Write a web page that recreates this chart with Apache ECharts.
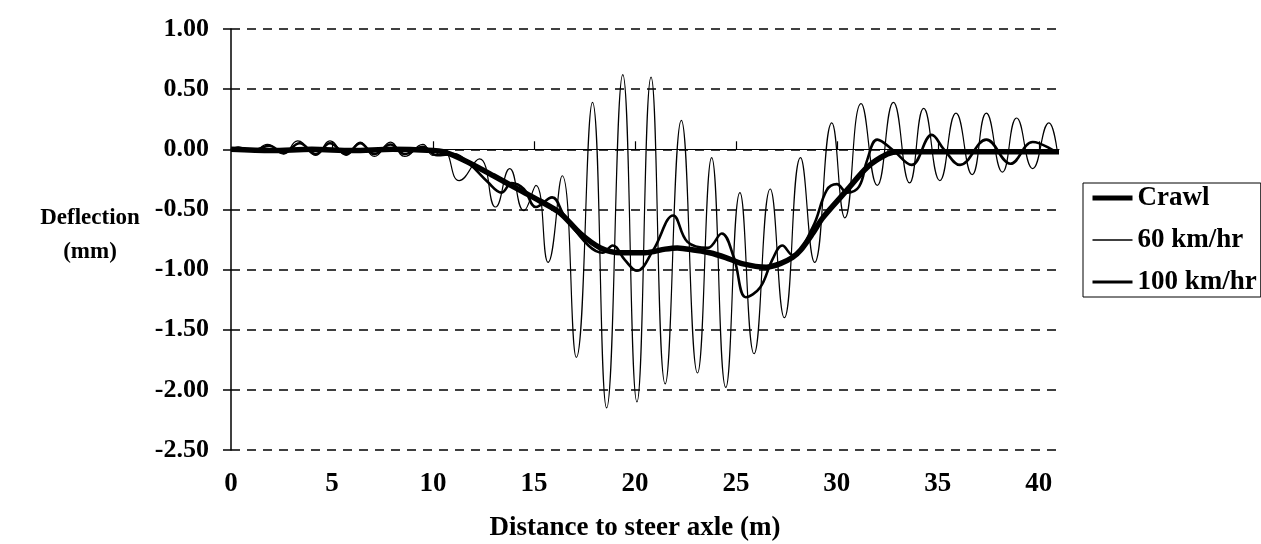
<!DOCTYPE html>
<html>
<head>
<meta charset="utf-8">
<script src="https://cdn.jsdelivr.net/npm/echarts@6/dist/echarts.min.js"></script>
<style>
html, body { margin: 0; padding: 0; background: #fff; }
#deflection-chart { width: 1261px; height: 544px; }
</style>
</head>
<body>
<div id="deflection-chart"></div>
<script>
// values: distance (m) vs deflection (mm)
const crawlX = [0, 2, 4, 6, 8, 10, 10.5, 11, 12, 13, 14.3, 15.3, 16.3, 17.3, 18.3, 19.3, 20.5, 21.5, 22.1, 23, 23.7, 24.5, 25.3, 26.5, 27.2, 27.8, 28.2, 28.8, 29.3, 30.5, 31.5, 32.5, 33.1, 35, 38, 41]
const crawlY = [0, -0.01, 0, -0.01, 0, -0.01, -0.02, -0.05, -0.13, -0.22, -0.34, -0.43, -0.53, -0.70, -0.82, -0.86, -0.86, -0.83, -0.82, -0.84, -0.86, -0.90, -0.95, -0.98, -0.95, -0.90, -0.84, -0.70, -0.57, -0.34, -0.15, -0.04, -0.02, -0.02, -0.02, -0.02]

const speed60X = [0, 0.35, 1.1, 1.8, 2.6, 3.3, 4.2, 4.9, 5.7, 6.4, 7.1, 7.9, 8.6, 9.5, 10.0, 10.5, 11.3, 12.3, 13.1, 13.8, 14.5, 15.1, 15.7, 16.4, 17.1, 17.9, 18.6, 19.4, 20.1, 20.8, 21.5, 22.3, 23.1, 23.8, 24.5, 25.2, 25.9, 26.7, 27.4, 28.2, 28.9, 29.75, 30.4, 31.2, 32.0, 32.8, 33.6, 34.3, 35.1, 35.9, 36.7, 37.4, 38.2, 38.9, 39.7, 40.5, 40.9]
const speed60Y = [0, 0.02, -0.02, 0.04, -0.04, 0.07, -0.05, 0.07, -0.05, 0.06, -0.06, 0.06, -0.06, 0.04, -0.05, -0.01, -0.26, -0.08, -0.48, -0.16, -0.51, -0.30, -0.94, -0.22, -1.73, 0.39, -2.15, 0.62, -2.10, 0.60, -1.95, 0.24, -1.86, -0.07, -1.98, -0.36, -1.70, -0.33, -1.40, -0.07, -0.94, 0.22, -0.57, 0.38, -0.30, 0.39, -0.28, 0.34, -0.26, 0.30, -0.21, 0.30, -0.19, 0.26, -0.16, 0.22, 0.0]

const speed100X = [0, 0.4, 1.1, 1.9, 2.6, 3.4, 4.2, 4.9, 5.7, 6.4, 7.1, 7.9, 8.6, 9.5, 10.2, 11.0, 11.8, 12.7, 13.4, 13.9, 14.5, 15.1, 15.9, 16.5, 17.7, 18.4, 18.9, 19.5, 20.1, 20.9, 21.9, 22.6, 23.6, 24.3, 24.9, 25.5, 26.2, 26.8, 27.3, 27.8, 28.8, 29.5, 30.0, 30.5, 31.1, 31.5, 32.0, 32.8, 33.7, 34.7, 35.3, 36.1, 37.4, 38.6, 39.7, 40.9]
const speed100Y = [0, 0.01, -0.01, 0.03, -0.03, 0.05, -0.04, 0.05, -0.04, 0.05, -0.04, 0.04, -0.04, 0.02, -0.05, -0.04, -0.12, -0.27, -0.36, -0.28, -0.33, -0.48, -0.40, -0.55, -0.80, -0.86, -0.80, -0.92, -1.01, -0.84, -0.55, -0.77, -0.82, -0.70, -0.90, -1.23, -1.15, -0.92, -0.80, -0.88, -0.65, -0.34, -0.29, -0.36, -0.31, -0.09, 0.08, -0.01, -0.13, 0.12, 0.0, -0.13, 0.08, -0.12, 0.06, -0.03]

const xTicks = [0, 5, 10, 15, 20, 25, 30, 35, 40]
const seriesNames = ['Crawl', '60 km/hr', '100 km/hr']

const serif = '"Liberation Serif", "Times New Roman", serif'

function pairs(xs, ys) {
  return xs.map((x, i) => [x, ys[i]])
}

const chart = echarts.init(document.getElementById('deflection-chart'))

// legend keeps only the line sample, the marker circle is hidden
const noMarker = { color: 'rgba(0,0,0,0)', borderWidth: 0, opacity: 0 }

chart.setOption({
  animation: false,
  backgroundColor: '#fff',
  grid: {
    left: 231,
    right: 202,
    top: 29,
    bottom: 94,
    outerBoundsMode: 'none'
  },
  legend: {
    orient: 'vertical',
    left: 1083,
    top: 183,
    padding: [1, 4, 1, 7],
    itemGap: 14,
    itemWidth: 40,
    itemHeight: 20,
    borderColor: '#000',
    borderWidth: 1,
    itemStyle: noMarker,
    textStyle: {
      fontFamily: serif,
      fontSize: 27,
      fontWeight: 'bold',
      color: '#000',
      lineHeight: 28
    },
    data: [
      { name: seriesNames[0], itemStyle: noMarker, lineStyle: { width: 5, color: '#000' } },
      { name: seriesNames[1], itemStyle: noMarker, lineStyle: { width: 1.5, color: '#000' } },
      { name: seriesNames[2], itemStyle: noMarker, lineStyle: { width: 3, color: '#000' } }
    ]
  },
  graphic: [
    {
      type: 'text',
      x: 90,
      y: 235,
      style: {
        text: 'Deflection\n(mm)',
        font: 'bold 23px ' + serif,
        fill: '#000',
        align: 'center',
        verticalAlign: 'middle',
        lineHeight: 34
      }
    },
    {
      type: 'text',
      x: 635,
      y: 528,
      style: {
        text: 'Distance to steer axle (m)',
        font: 'bold 27px ' + serif,
        fill: '#000',
        align: 'center',
        verticalAlign: 'middle'
      }
    }
  ],
  xAxis: [
    {
      type: 'value',
      position: 'bottom',
      min: 0,
      max: 41,
      axisLine: { show: false, onZero: false },
      axisTick: { show: false },
      splitLine: { show: false },
      axisLabel: {
        customValues: xTicks,
        margin: 21,
        fontFamily: serif,
        fontSize: 27,
        fontWeight: 'bold',
        color: '#000'
      }
    },
    {
      // the solid zero line with its small ticks
      type: 'value',
      position: 'bottom',
      min: 0,
      max: 41,
      axisLine: { show: true, onZero: true, lineStyle: { color: '#000', width: 1.2 } },
      axisTick: {
        show: true,
        inside: true,
        length: 8,
        customValues: xTicks.slice(1),
        lineStyle: { color: '#000', width: 1.2 }
      },
      axisLabel: { show: false },
      splitLine: { show: false }
    }
  ],
  yAxis: {
    type: 'value',
    min: -2.5,
    max: 1,
    interval: 0.5,
    axisLine: { show: true, onZero: false, lineStyle: { color: '#000', width: 1.5 } },
    axisTick: { show: true, length: 8, lineStyle: { color: '#000', width: 1.5 } },
    axisLabel: {
      margin: 22,
      fontFamily: serif,
      fontSize: 26,
      fontWeight: 'bold',
      color: '#000',
      formatter: v => v.toFixed(2)
    },
    splitLine: {
      show: true,
      lineStyle: { color: '#000', width: 1.5, type: [9, 7] }
    }
  },
  series: [
    {
      name: seriesNames[0],
      type: 'line',
      xAxisIndex: 0,
      symbol: 'none',
      smooth: 0.3,
      z: 3,
      lineStyle: { color: '#000', width: 5.5 },
      itemStyle: { color: '#000' },
      data: pairs(crawlX, crawlY)
    },
    {
      name: seriesNames[1],
      type: 'line',
      xAxisIndex: 0,
      symbol: 'none',
      smooth: 0.5,
      z: 2,
      lineStyle: { color: '#000', width: 1.2 },
      itemStyle: { color: '#000' },
      data: pairs(speed60X, speed60Y)
    },
    {
      name: seriesNames[2],
      type: 'line',
      xAxisIndex: 0,
      symbol: 'none',
      smooth: 0.4,
      z: 4,
      lineStyle: { color: '#000', width: 2.6 },
      itemStyle: { color: '#000' },
      data: pairs(speed100X, speed100Y)
    }
  ]
})
</script>
</body>
</html>
